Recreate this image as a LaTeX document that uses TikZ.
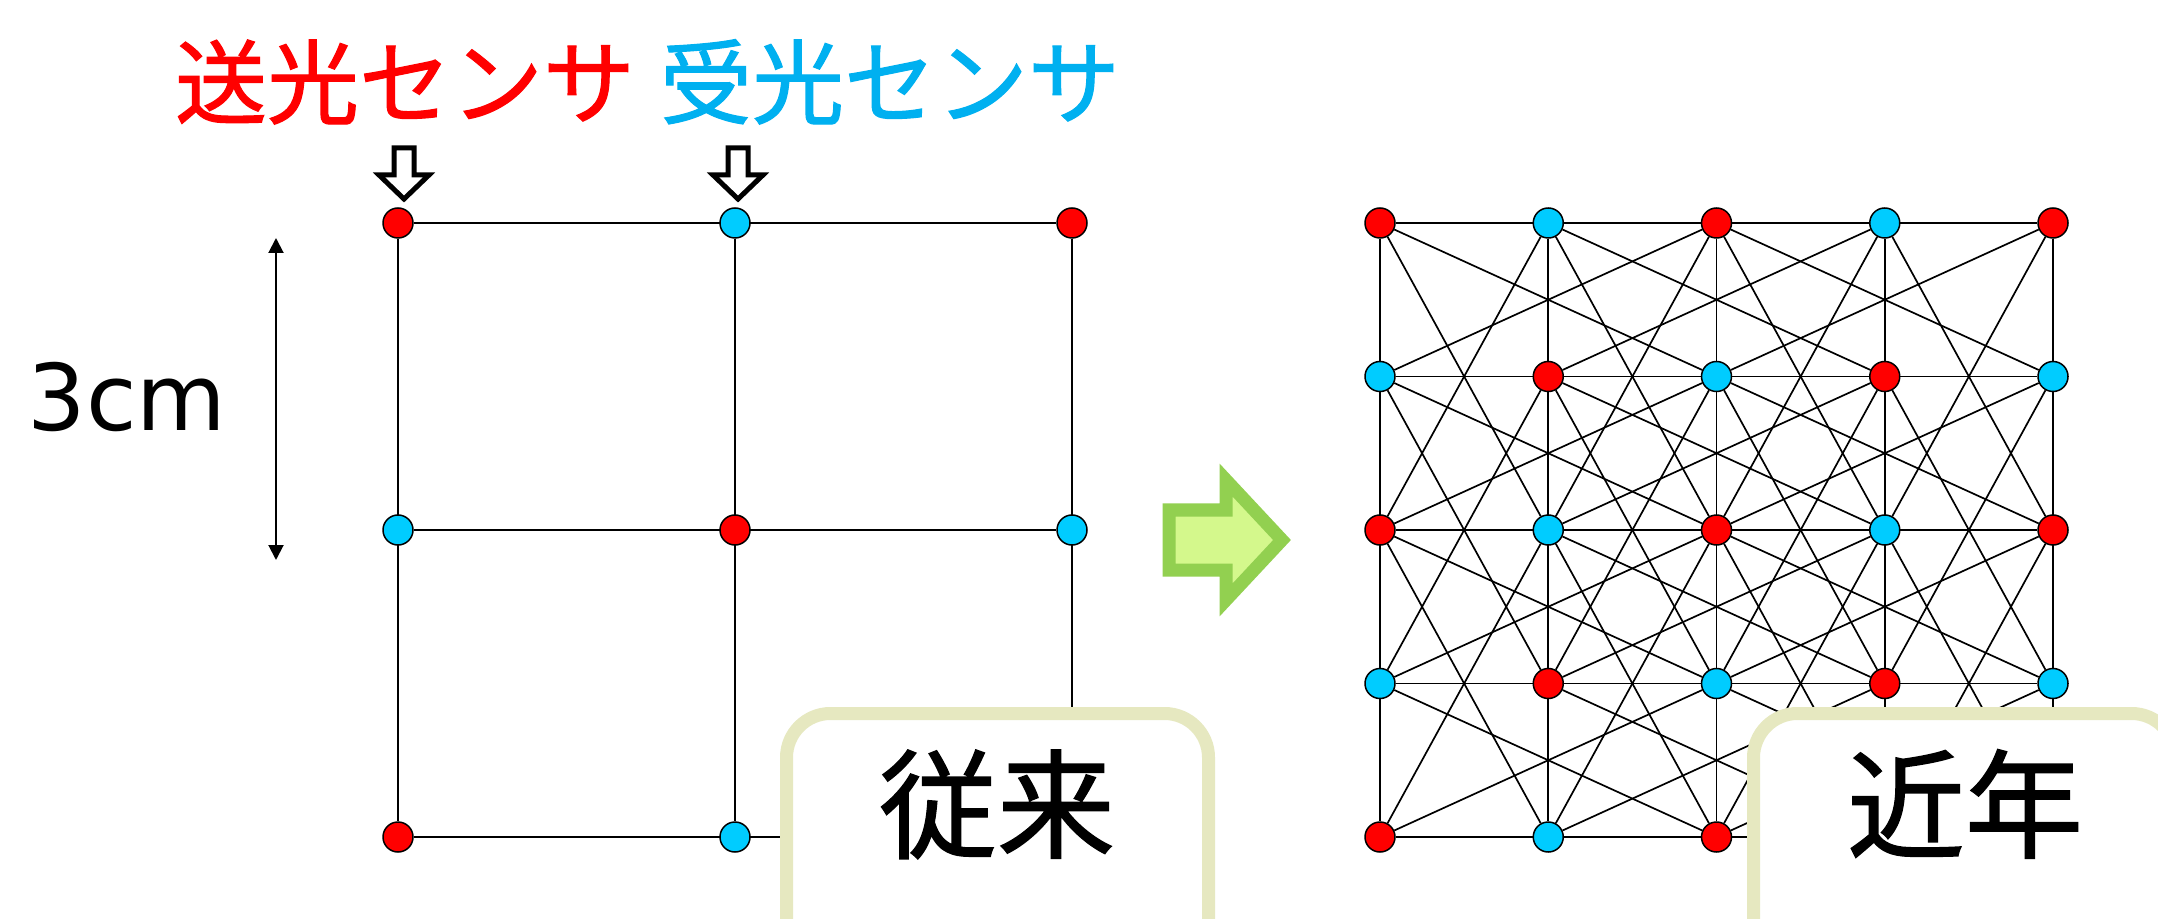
\documentclass[tikz,border=0pt]{standalone}
\usepackage{fontspec}
\setmainfont{Noto Sans CJK JP}
\newfontfamily\cjkheavy[FakeBold=1.2]{Noto Sans CJK JP}
\newfontfamily\latinsans{DejaVu Sans}
\usetikzlibrary{arrows.meta,backgrounds}
\definecolor{nred}{HTML}{FF0000}
\definecolor{nblue}{HTML}{00CCFF}
\definecolor{tblue}{HTML}{00B0F0}
\definecolor{boxline}{HTML}{E6E8C0}
\definecolor{garrowline}{HTML}{92D050}
\definecolor{garrowfill}{HTML}{D4F88C}
\begin{document}
\begin{tikzpicture}[x=0.5pt,y=-0.5pt,
  redsensor/.style={circle,draw=black,line width=0.75pt,fill=nred,minimum size=15pt,inner sep=0pt},
  bluesensor/.style={circle,draw=black,line width=0.75pt,fill=nblue,minimum size=15pt,inner sep=0pt},
  oldline/.style={draw=black,line width=1pt},
  newline/.style={draw=black,line width=0.85pt},
  hollowarrow/.style={draw=black,fill=white,line width=2.5pt,miter limit=10},
  dimarrow/.style={draw=black,line width=1pt,{Triangle[width=7.5pt,length=7.5pt]}-{Triangle[width=7.5pt,length=7.5pt]}},
  bigarrow/.style={draw=garrowline,fill=garrowfill,line width=6.5pt,line join=miter},
  labelbox/.style={draw=boxline,fill=white,line width=6.5pt,rounded corners=22pt},
  boxtext/.style={anchor=base,font=\cjkheavy\fontsize{59pt}{59pt}\selectfont,inner sep=0pt},
  titletext/.style={anchor=base,font=\cjkheavy\fontsize{46pt}{46pt}\selectfont,inner sep=0pt},
]
\useasboundingbox (0,0) rectangle (2158,919);
\begin{scope}[on background layer]
  \fill[white] (0,0) rectangle (2158,919);
\end{scope}

% ---- left (conventional) grid ----
\foreach \i/\px in {0/398,1/735,2/1072} {
  \foreach \j/\py in {0/223,1/530,2/837} {
    \pgfmathtruncatemacro\parity{mod(\i+\j,2)}
    \ifnum\parity=0
      \node[redsensor] (l-\i-\j) at (\px,\py) {};
    \else
      \node[bluesensor] (l-\i-\j) at (\px,\py) {};
    \fi
  }
}
\begin{scope}[on background layer]
  \foreach \j in {0,1,2} \draw[oldline] (l-0-\j) -- (l-2-\j);
  \foreach \i in {0,1,2} \draw[oldline] (l-\i-0) -- (l-\i-2);
\end{scope}

% ---- right (recent) grid ----
\foreach \i in {0,...,4} {
  \foreach \j in {0,...,4} {
    \pgfmathtruncatemacro\parity{mod(\i+\j,2)}
    \pgfmathsetmacro\px{1380+168.25*\i}
    \pgfmathsetmacro\py{223+153.5*\j}
    \ifnum\parity=0
      \node[redsensor] (r-\i-\j) at (\px,\py) {};
    \else
      \node[bluesensor] (r-\i-\j) at (\px,\py) {};
    \fi
  }
}
\begin{scope}[on background layer]
  \foreach \j in {0,...,4} \draw[newline] (r-0-\j) -- (r-4-\j);
  \foreach \i in {0,...,4} \draw[newline] (r-\i-0) -- (r-\i-4);
  \foreach \i in {0,...,4} {
    \foreach \j in {0,...,3} {
      \foreach \di/\dj in {1/2,-1/2,2/1,-2/1} {
        \pgfmathtruncatemacro\ni{\i+\di}
        \pgfmathtruncatemacro\nj{\j+\dj}
        \pgfmathtruncatemacro\ok{and(and(\ni>-1,\ni<5),\nj<5)}
        \ifnum\ok=1 \draw[newline] (r-\i-\j) -- (r-\ni-\nj); \fi
      }
    }
  }
\end{scope}

% ---- titles ----
\node[titletext,text=nred] (tsend) at (405,117) {送光センサ};
\node[titletext,text=tblue] (trecv) at (890,117) {受光センサ};

% ---- hollow arrows ----
\draw[hollowarrow] (394,148) -- (414,148) -- (414,175) -- (429,175) -- (404,199) -- (379,175) -- (394,175) -- cycle;
\draw[hollowarrow] (728,148) -- (748,148) -- (748,175) -- (763,175) -- (738,199) -- (713,175) -- (728,175) -- cycle;

% ---- dimension ----
\coordinate (dimtop) at (276,238);
\coordinate (dimbot) at (276,560);
\draw[dimarrow] (dimtop) -- (dimbot);
\node[anchor=base,inner sep=0pt,font=\latinsans\fontsize{46pt}{46pt}\selectfont] (dimlabel) at (127,430) {3cm};

% ---- green arrow ----
\draw[bigarrow] (1169,510) -- (1226,510) -- (1226,480) -- (1282,540) -- (1226,600) -- (1226,570) -- (1169,570) -- cycle;

% ---- label boxes ----
\draw[labelbox] (786.5,713.5) rectangle (1208.5,990);
\node[boxtext] (oldlabel) at (997,849) {従来};
\draw[labelbox] (1753.5,713.5) rectangle (2175.5,990);
\node[boxtext] (newlabel) at (1965,849) {近年};
\end{tikzpicture}
\end{document}
